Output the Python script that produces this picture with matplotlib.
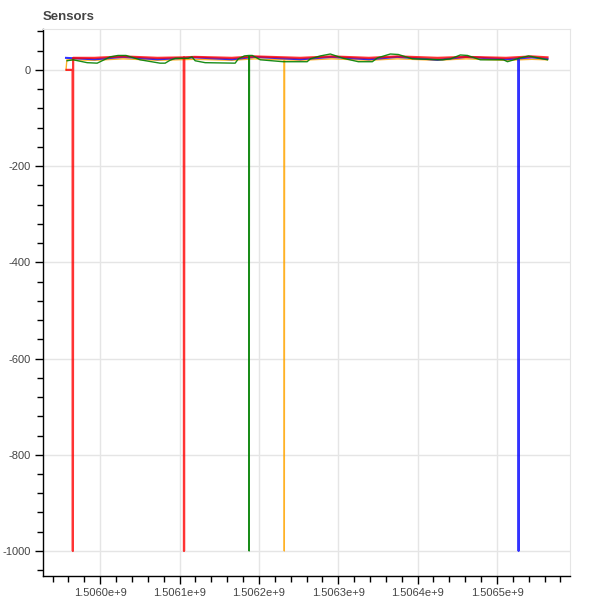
import matplotlib

matplotlib.use("Agg")
from matplotlib import pyplot as plt
from matplotlib.ticker import MultipleLocator, FuncFormatter

plt.rcParams['font.family'] = ['Liberation Sans', 'DejaVu Sans']

# start time of the records (epoch seconds), offsets below are in hours
t0 = 1505957000

red_h = [0.2, 2.3, 2.4, 2.5, 10, 20, 32, 41.2, 41.3, 41.4, 45, 58, 66, 82, 93,
         106, 116, 130, 140, 154, 163, 168.5]
red_v = [0, 0, -1000, 25, 25, 28, 25, 26, -1000, 26, 27, 25, 28, 25, 28,
         25, 28, 25, 27, 25, 28, 26]

blue_h = [0, 10, 20, 32, 45, 58, 66, 82, 93, 106, 116, 130, 140, 154,
          158.3, 158.4, 158.5, 163, 168.5]
blue_v = [25, 22, 27, 22, 26, 22, 27, 22, 27, 22, 27, 21, 27, 22,
          24, -1000, 24, 26, 23]

orange_h = [0, 0.3, 10, 20, 32, 45, 58, 66, 76.3, 76.4, 76.5, 82, 93, 106,
            116, 130, 140, 154, 163, 168.5]
orange_v = [0, 21, 20, 23, 20, 22, 20, 23, 21, -1000, 21, 20, 23, 20,
            23, 20, 23, 20, 22, 21]

green_h = [0.4, 2.5, 7.4, 10.9, 13, 15.4, 18.2, 21, 25.9, 32.9, 34.7, 36.4,
           38.2, 42.7, 44.1, 45.2, 48.7, 59.2, 60.3, 62.4, 64.0, 64.1, 64.2,
           65.2, 68, 76, 84.4, 85.5, 89, 92.5, 97.1, 102.3, 107.2, 109, 113.5,
           116.3, 121.2, 131.8, 134.6, 138, 140.5, 145, 153.1, 154.5, 159,
           161.9, 168.5]
green_v = [19, 21, 15, 14, 20, 27, 30, 30, 21, 14, 14, 20,
           24, 24, 27, 19, 15, 14, 23, 29, 30, -1000, 30,
           30, 21, 17, 17, 23, 29, 33, 24, 17, 17, 25, 33,
           32, 23, 21, 23, 31, 30, 21, 21, 17, 25,
           29, 21]


def to_epoch(hours):
    return [t0 + h * 3600 for h in hours]


fig = plt.figure(figsize=(6, 6), dpi=100)
ax = fig.add_axes([43 / 600, 24 / 600, 527 / 600, 547 / 600])

ax.plot(to_epoch(orange_h), orange_v, color='orange', lw=1.0, alpha=0.85)
ax.plot(to_epoch(blue_h), blue_v, color='blue', lw=1.5, alpha=0.8)
ax.plot(to_epoch(red_h), red_v, color='red', lw=1.6, alpha=0.8)
ax.plot(to_epoch(green_h), green_v, color='green', lw=1.0, alpha=0.9)

ax.set_xlim(1505928000, 1506592000)
ax.set_ylim(-1052, 85)

ax.xaxis.set_major_locator(MultipleLocator(1e5))
ax.xaxis.set_minor_locator(MultipleLocator(2e4))
ax.yaxis.set_major_locator(MultipleLocator(200))
ax.yaxis.set_minor_locator(MultipleLocator(40))


def sci(x, pos):
    m, e = f"{x:.4e}".split('e')
    return f"{m}e+{int(e)}"


ax.xaxis.set_major_formatter(FuncFormatter(sci))
ax.yaxis.set_major_formatter(FuncFormatter(lambda v, p: f"{int(round(v))}"))

ax.grid(True, which='major', color='#e5e5e5', lw=1)
ax.set_axisbelow(True)
for side in ['top', 'right']:
    ax.spines[side].set_color('#e5e5e5')
for side in ['left', 'bottom']:
    ax.spines[side].set_color('black')
    ax.spines[side].set_linewidth(1)

ax.tick_params(which='major', direction='out', length=6, width=1,
               labelsize=8, labelcolor='#444444', pad=3)
ax.tick_params(which='minor', direction='out', length=4, width=1)

fig.text(43 / 600, 1 - 17 / 600, 'Sensors', fontsize=9.5, fontweight='bold',
         color='#444444', va='center', ha='left')

fig.savefig('out.png', dpi=100)
